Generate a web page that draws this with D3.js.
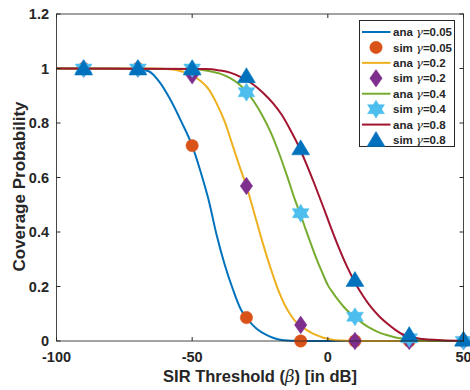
<!DOCTYPE html>
<html><head><meta charset="utf-8">
<script src="https://cdn.jsdelivr.net/npm/d3@7"></script>
<style>
html,body{margin:0;padding:0;background:#fff;}
svg{display:block;}
text{font-family:"Liberation Sans",Arial,Helvetica,sans-serif;font-weight:bold;fill:#262626;}
</style></head>
<body>
<svg id="chart" width="470" height="390"></svg>
<script>
// ---- data ----
const xTicks = [-100, -50, 0, 50];
const yTicks = [0, 0.2, 0.4, 0.6, 0.8, 1, 1.2];
const yTickLabels = ["0", "0.2", "0.4", "0.6", "0.8", "1", "1.2"];

// analytical curves
const ana005X = [-100,-80,-70,-66,-62,-58,-54,-50,-47,-44,-41,-38,-35,-32,-30,-28,-26,-23,-20,-17,-12,-5,50];
const ana005Y = [1,1,0.998,0.99,0.95,0.885,0.805,0.717,0.625,0.52,0.39,0.28,0.19,0.115,0.086,0.062,0.043,0.024,0.011,0.004,0.001,0,0];

const ana02X = [-100,-65,-58,-54,-50,-47,-44,-41,-38,-35,-32,-30,-28,-26,-24,-22,-20,-18,-16,-14,-12,-10,-8,-6,-4,-2,0,3,8,15,50];
const ana02Y = [1,1,0.997,0.99,0.975,0.955,0.925,0.872,0.805,0.715,0.625,0.569,0.5,0.43,0.36,0.295,0.235,0.18,0.135,0.1,0.073,0.056,0.042,0.03,0.021,0.013,0.008,0.003,0.001,0,0];

const ana04X = [-100,-50,-45,-40,-36,-33,-30,-27,-24,-21,-18,-15,-12,-10,-8,-6,-4,-2,0,2,4,6,8,10,13,16,19,22,25,30,40,50];
const ana04Y = [1,0.998,0.993,0.982,0.965,0.945,0.915,0.875,0.825,0.765,0.69,0.605,0.515,0.462,0.405,0.35,0.297,0.25,0.205,0.175,0.148,0.124,0.104,0.087,0.064,0.045,0.031,0.021,0.013,0.006,0.001,0];

const ana08X = [-100,-45,-40,-36,-32,-28,-24,-20,-17,-14,-11,-8,-5,-2,1,4,7,10,13,16,19,22,25,28,32,36,42,50];
const ana08Y = [1,0.998,0.993,0.985,0.968,0.945,0.912,0.87,0.83,0.778,0.72,0.652,0.578,0.5,0.42,0.344,0.275,0.215,0.165,0.123,0.09,0.063,0.04,0.022,0.012,0.006,0.003,0.001];

// simulation points
const simX = [-90, -70, -50, -30, -10, 10, 30, 50];
const sim005 = [1, 1, 0.717, 0.086, 0, 0, 0, 0];
const sim02 = [1, 1, 0.975, 0.569, 0.059, 0, 0, 0];
const sim04 = [1, 1, 1, 0.913, 0.469, 0.089, 0.01, 0];
const sim08 = [1, 1, 1, 0.972, 0.707, 0.224, 0.022, 0.005];

const legendLabels = ["ana ", "sim ", "ana ", "sim ", "ana ", "sim ", "ana ", "sim "];
const legendGammas = ["0.05", "0.05", "0.2", "0.2", "0.4", "0.4", "0.8", "0.8"];

// ---- layout ----
const svg = d3.select("#chart");
const L = 56.5, R = 463.5, T = 14, B = 341;
const x = d3.scaleLinear().domain([-100, 50]).range([L, R]);
const y = d3.scaleLinear().domain([0, 1.2]).range([B, T]);

const C = {
  blue: "#0072BD", orange: "#D95319", yellow: "#EDB120", purple: "#7E2F8E",
  green: "#77AC30", cyan: "#4DBEEE", red: "#A2142F", axis: "#262626"
};

// marker shapes
function markerPath(type) {
  if (type === "circle") return d3.symbol().type(d3.symbolCircle).size(Math.PI * 6.2 * 6.2)();
  if (type === "diamond") return "M0,-8.8L6.2,0L0,8.8L-6.2,0Z";
  if (type === "triangle") return "M0,-8.5L9,6.5L-9,6.5Z";
  if (type === "star") {
    const r = 9, sx = 1.08;
    const p = (a) => [sx * r * Math.sin(a), -r * Math.cos(a)];
    const t1 = [0, 2, 4].map(i => p(i * Math.PI / 3 * 2 / 2 * 2 / 2 * 2));
    const pts1 = [0, 1, 2].map(i => p(i * 2 * Math.PI / 3));
    const pts2 = [0, 1, 2].map(i => p(Math.PI + i * 2 * Math.PI / 3));
    const f = pts => "M" + pts.map(q => q[0].toFixed(2) + "," + q[1].toFixed(2)).join("L") + "Z";
    return f(pts1) + f(pts2);
  }
}

// axes box
const g = svg.append("g");
g.append("rect").attr("x", L).attr("y", T).attr("width", R - L).attr("height", B - T)
  .attr("fill", "#fff");

const line = d3.line().x(d => x(d[0])).y(d => y(d[1])).curve(d3.curveMonotoneX);
const series = [
  { ax: ana005X, ay: ana005Y, lc: C.blue, sim: sim005, mc: C.orange, m: "circle" },
  { ax: ana02X, ay: ana02Y, lc: C.yellow, sim: sim02, mc: C.purple, m: "diamond" },
  { ax: ana04X, ay: ana04Y, lc: C.green, sim: sim04, mc: C.cyan, m: "star" },
  { ax: ana08X, ay: ana08Y, lc: C.red, sim: sim08, mc: C.blue, m: "triangle" }
];

const plot = g.append("g");
series.forEach(s => {
  plot.append("path").datum(d3.zip(s.ax, s.ay)).attr("d", line)
    .attr("fill", "none").attr("stroke", s.lc).attr("stroke-width", 2);
  plot.selectAll(null).data(d3.zip(simX, s.sim)).enter().append("path")
    .attr("d", markerPath(s.m))
    .attr("transform", d => `translate(${x(d[0])},${y(d[1])})`)
    .attr("fill", s.mc).attr("stroke", s.mc).attr("stroke-width", 0.5);
});

// axis frame & ticks
const ax = svg.append("g");
ax.append("rect").attr("x", L).attr("y", T).attr("width", R - L).attr("height", B - T)
  .attr("fill", "none").attr("stroke", C.axis).attr("stroke-width", 1).attr("opacity", 0.85);
const tl = 4;
xTicks.forEach(v => {
  ax.append("line").attr("x1", x(v)).attr("x2", x(v)).attr("y1", B).attr("y2", B - tl).attr("stroke", C.axis);
  ax.append("line").attr("x1", x(v)).attr("x2", x(v)).attr("y1", T).attr("y2", T + tl).attr("stroke", C.axis);
  ax.append("text").attr("x", x(v)).attr("y", 362).attr("text-anchor", "middle")
    .attr("font-size", 14.5).text(v);
});
yTicks.forEach((v, i) => {
  ax.append("line").attr("x1", L).attr("x2", L + tl).attr("y1", y(v)).attr("y2", y(v)).attr("stroke", C.axis);
  ax.append("line").attr("x1", R).attr("x2", R - tl).attr("y1", y(v)).attr("y2", y(v)).attr("stroke", C.axis);
  ax.append("text").attr("x", 49).attr("y", y(v)).attr("dy", "0.36em").attr("text-anchor", "end")
    .attr("font-size", 14.5).text(yTickLabels[i]);
});

// axis labels
const xl = svg.append("text").attr("x", (L + R) / 2).attr("y", 382).attr("text-anchor", "middle")
  .attr("font-size", 16.5);
xl.append("tspan").text("SIR Threshold (");
xl.append("tspan").attr("font-family", "DejaVu Serif, serif").attr("font-style", "italic")
  .attr("font-weight", "normal").text("β");
xl.append("tspan").text(") [in dB]");

svg.append("text").attr("transform", "translate(25,186.5) rotate(-90)").attr("text-anchor", "middle")
  .attr("font-size", 17).text("Coverage Probability");

// legend
const lg = svg.append("g");
lg.append("rect").attr("x", 359.5).attr("y", 20.5).attr("width", 95).attr("height", 126)
  .attr("fill", "#fff").attr("stroke", C.axis).attr("stroke-width", 1);
legendLabels.forEach((lab, i) => {
  const s = series[Math.floor(i / 2)];
  const cy = 32 + i * 15.43;
  if (i % 2 === 0) {
    lg.append("line").attr("x1", 362).attr("x2", 390.5).attr("y1", cy).attr("y2", cy)
      .attr("stroke", s.lc).attr("stroke-width", 2);
  } else {
    lg.append("path").attr("d", markerPath(s.m)).attr("transform", `translate(376,${cy})`)
      .attr("fill", s.mc).attr("stroke", s.mc).attr("stroke-width", 0.5);
  }
  const t = lg.append("text").attr("x", 393).attr("y", cy).attr("dy", "0.36em").attr("font-size", 11.5);
  t.append("tspan").text(lab);
  t.append("tspan").attr("font-family", "DejaVu Serif, serif").attr("font-weight", "normal")
    .attr("font-style", "italic").text("γ");
  t.append("tspan").text("=" + legendGammas[i]);
});
</script>
</body></html>
